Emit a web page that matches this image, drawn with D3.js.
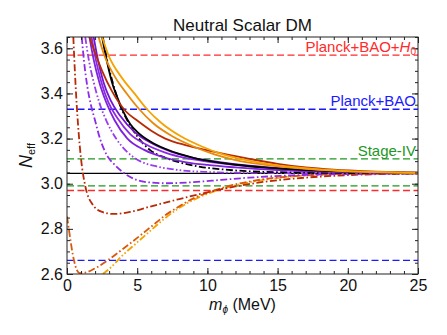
<!DOCTYPE html>
<html>
<head>
<meta charset="utf-8">
<script src="https://cdn.jsdelivr.net/npm/d3@7"></script>
<style>
  body { margin: 0; background: #fff; }
  svg { font-family: "Liberation Sans", Arial, sans-serif; }
</style>
</head>
<body>
<script>
// mass grid ticks and labels
const xMajor = [0, 5, 10, 15, 20, 25];
const xMinor = d3.range(0, 26, 1);
const yMajor = [2.6, 2.8, 3.0, 3.2, 3.4, 3.6];
const yMinor = d3.range(2.6, 3.651, 0.05);

// horizontal bounds (lower, upper)
const boundPlanckH0 = [2.97, 3.57];
const boundPlanckBAO = [2.66, 3.33];
const boundStageIV = [2.99, 3.11];
const nEffSM = 3.046;

// curves, [m_phi (MeV), N_eff]
const orangeSolidA = [[2.5,3.65],[2.95,3.57],[3.9,3.47],[4.8,3.40],[5.7,3.33],[6.7,3.27],[8.1,3.21],[9.6,3.165],[11.1,3.13],[12.5,3.108],[14,3.09],[16,3.074],[18,3.063],[20,3.056],[22,3.052],[25,3.048]];
const orangeSolidB = [[2.25,3.65],[2.65,3.57],[3.45,3.47],[4.25,3.40],[5.15,3.33],[6.1,3.27],[7.5,3.21],[9,3.165],[10.5,3.13],[12,3.105],[14,3.085],[16,3.071],[18,3.061],[20,3.055],[25,3.048]];
const redSolid = [[1.6,3.65],[2.0,3.58],[2.5,3.5],[3.2,3.41],[4.2,3.32],[5,3.28],[6,3.235],[7,3.2],[8.5,3.17],[10,3.148],[12,3.122],[13,3.11],[15,3.088],[17,3.072],[19,3.062],[22,3.054],[25,3.049]];
const blackSolid = [[2.5,3.65],[2.75,3.57],[3.2,3.45],[3.6,3.38],[4,3.32],[4.5,3.265],[5,3.23],[6,3.185],[7,3.155],[8,3.132],[9,3.115],[10,3.102],[12,3.084],[14,3.072],[17,3.06],[20,3.054],[25,3.049]];
const blackDashDot = [[2.55,3.65],[2.85,3.55],[3.25,3.45],[3.7,3.36],[4.3,3.28],[5,3.21],[5.9,3.15],[7,3.115],[8,3.095],[9.5,3.075],[11,3.064],[13,3.055],[16,3.05],[25,3.046]];
const purpleSolidA = [[1.9,3.65],[2.2,3.55],[2.6,3.45],[3.1,3.37],[3.8,3.3],[4.8,3.23],[6,3.18],[7.5,3.14],[9,3.115],[11,3.095],[13,3.08],[16,3.065],[20,3.054],[25,3.048]];
const purpleSolidB = [[1.75,3.65],[2.05,3.55],[2.45,3.45],[2.95,3.36],[3.6,3.29],[4.5,3.22],[5.6,3.175],[7,3.138],[8.5,3.113],[10,3.098],[12,3.083],[14,3.071],[17,3.06],[20,3.053],[25,3.048]];
const purpleSolidC = [[1.6,3.65],[1.9,3.55],[2.3,3.45],[2.8,3.36],[3.4,3.28],[4.3,3.2],[5.5,3.15],[7,3.115],[8.5,3.095],[10,3.083],[12,3.072],[15,3.06],[20,3.051],[25,3.047]];
const purpleDashDot = [[1.05,3.65],[1.2,3.55],[1.45,3.43],[1.7,3.35],[2.0,3.28],[2.35,3.2],[2.9,3.12],[3.3,3.09],[4,3.05],[5,3.016],[6,3.005],[7,3.002],[9,3.007],[11,3.017],[13,3.027],[16,3.037],[20,3.043],[25,3.046]];
const purpleDashDotDot = [[1.3,3.65],[1.55,3.55],[1.9,3.45],[2.3,3.36],[2.8,3.28],[3.5,3.2],[4.3,3.14],[5.2,3.1],[6.5,3.075],[8,3.06],[10,3.052],[13,3.048],[25,3.046]];
const redDashDot = [[0.45,3.65],[0.6,3.45],[0.8,3.25],[1.0,3.11],[1.3,2.99],[1.8,2.91],[2.5,2.875],[3.3,2.866],[4.5,2.875],[6,2.9],[8,2.932],[10,2.962],[12,2.988],[14,3.008],[17,3.027],[20,3.038],[25,3.045]];
const orangeRedDashDot = [[0,2.855],[0.2,2.77],[0.4,2.69],[0.6,2.635],[0.9,2.604],[1.3,2.606],[2,2.625],[3,2.665],[4,2.712],[5,2.76],[6,2.81],[7,2.86],[8,2.9],[9,2.935],[10,2.96],[11,2.98],[12,2.997],[14,3.02],[16,3.033],[19,3.042],[25,3.046]];
const orangeDashDotDot = [[2.55,2.6],[3,2.622],[4,2.685],[5,2.74],[6,2.795],[7,2.848],[8,2.893],[9,2.928],[10,2.955],[11,2.976],[12,2.993],[14,3.017],[16,3.032],[19,3.041],[25,3.046]];

const W = 447, H = 335;
const margin = {left: 67, right: 29, top: 37, bottom: 61};

const x = d3.scaleLinear().domain([0, 25]).range([margin.left, W - margin.right]);
const y = d3.scaleLinear().domain([2.6, 3.65]).range([H - margin.bottom, margin.top]);

const svg = d3.select("body").append("svg").attr("width", W).attr("height", H);

svg.append("clipPath").attr("id", "plot")
  .append("rect")
  .attr("x", x(0)).attr("y", y(3.65))
  .attr("width", x(25) - x(0)).attr("height", y(2.6) - y(3.65));

const g = svg.append("g").attr("clip-path", "url(#plot)");

// bound lines
const bounds = [
  {vals: boundPlanckH0, color: "#ff2a2a"},
  {vals: boundPlanckBAO, color: "#1a1aff"},
  {vals: boundStageIV, color: "#1f961f"}
];
bounds.forEach(b => {
  b.vals.forEach(v => {
    g.append("line")
      .attr("x1", x(0)).attr("x2", x(25))
      .attr("y1", y(v)).attr("y2", y(v))
      .attr("stroke", b.color).attr("stroke-width", 1.3)
      .attr("stroke-dasharray", "7,3.5");
  });
});

g.append("line")
  .attr("x1", x(0)).attr("x2", x(25))
  .attr("y1", y(nEffSM)).attr("y2", y(nEffSM))
  .attr("stroke", "#000").attr("stroke-width", 1.3);

const DD = "7,2.5,1.6,2.5";
const DDD = "7,2.2,1.6,2.2,1.6,2.2";
const curves = [
  {d: orangeDashDotDot, c: "#f5a300", dash: DDD},
  {d: orangeRedDashDot, c: "#d9580c", dash: DD},
  {d: redDashDot, c: "#b82a05", dash: DD},
  {d: purpleDashDot, c: "#8e2be6", dash: DD},
  {d: purpleDashDotDot, c: "#9a3cf0", dash: DDD},
  {d: blackDashDot, c: "#000000", dash: DD},
  {d: purpleSolidC, c: "#7f22dc", dash: null},
  {d: purpleSolidB, c: "#8a2be2", dash: null},
  {d: purpleSolidA, c: "#7316d0", dash: null},
  {d: blackSolid, c: "#000000", dash: null},
  {d: redSolid, c: "#b82a05", dash: null},
  {d: orangeSolidB, c: "#e8890a", dash: null},
  {d: orangeSolidA, c: "#f5a300", dash: null}
];

const line = d3.line()
  .x(d => x(d[0])).y(d => y(d[1]))
  .curve(d3.curveMonotoneX);

curves.forEach(cv => {
  g.append("path")
    .attr("d", line(cv.d))
    .attr("fill", "none")
    .attr("stroke", cv.c)
    .attr("stroke-width", 1.8)
    .attr("stroke-dasharray", cv.dash);
});

// frame
svg.append("rect")
  .attr("x", x(0)).attr("y", y(3.65))
  .attr("width", x(25) - x(0)).attr("height", y(2.6) - y(3.65))
  .attr("fill", "none").attr("stroke", "#222").attr("stroke-width", 1);

function styleAxis(sel, fs) {
  sel.select(".domain").remove();
  sel.selectAll(".tick line").attr("stroke", "#222");
  sel.selectAll("text").attr("font-size", fs).attr("fill", "#111")
    .attr("font-family", "Liberation Sans, Arial, sans-serif");
}

// major / minor ticks
svg.append("g").attr("transform", `translate(0,${y(2.6)})`)
  .call(d3.axisBottom(x).tickValues(xMajor).tickSize(-6).tickPadding(6).tickFormat(d3.format("d")))
  .call(s => styleAxis(s, 16));
svg.append("g").attr("transform", `translate(0,${y(2.6)})`)
  .call(d3.axisBottom(x).tickValues(xMinor).tickSize(-3).tickFormat(""))
  .call(s => styleAxis(s, 16));
svg.append("g").attr("transform", `translate(0,${y(3.65)})`)
  .call(d3.axisTop(x).tickValues(xMajor).tickSize(-6).tickFormat(""))
  .call(s => styleAxis(s, 16));
svg.append("g").attr("transform", `translate(0,${y(3.65)})`)
  .call(d3.axisTop(x).tickValues(xMinor).tickSize(-3).tickFormat(""))
  .call(s => styleAxis(s, 16));

svg.append("g").attr("transform", `translate(${x(0)},0)`)
  .call(d3.axisLeft(y).tickValues(yMajor).tickSize(-6).tickPadding(4).tickFormat(d3.format(".1f")))
  .call(s => styleAxis(s, 16));
svg.append("g").attr("transform", `translate(${x(0)},0)`)
  .call(d3.axisLeft(y).tickValues(yMinor).tickSize(-3).tickFormat(""))
  .call(s => styleAxis(s, 16));
svg.append("g").attr("transform", `translate(${x(25)},0)`)
  .call(d3.axisRight(y).tickValues(yMajor).tickSize(-6).tickFormat(""))
  .call(s => styleAxis(s, 16));
svg.append("g").attr("transform", `translate(${x(25)},0)`)
  .call(d3.axisRight(y).tickValues(yMinor).tickSize(-3).tickFormat(""))
  .call(s => styleAxis(s, 16));

// title
svg.append("text")
  .attr("x", (x(0) + x(25)) / 2).attr("y", 31)
  .attr("text-anchor", "middle").attr("font-size", 17).attr("fill", "#111")
  .text("Neutral Scalar DM");

// bound labels
const lab1 = svg.append("text")
  .attr("x", x(25) - 2).attr("y", y(3.57) - 3)
  .attr("text-anchor", "end").attr("font-size", 15).attr("fill", "#ff2a2a");
lab1.append("tspan").text("Planck+BAO+");
lab1.append("tspan").attr("font-style", "italic").text("H");
lab1.append("tspan").attr("font-size", 10).attr("dy", 3).text("0");

svg.append("text")
  .attr("x", x(25) - 2).attr("y", y(3.33) - 3)
  .attr("text-anchor", "end").attr("font-size", 15).attr("fill", "#1a1aff")
  .text("Planck+BAO");

svg.append("text")
  .attr("x", x(25) - 2).attr("y", y(3.11) - 3)
  .attr("text-anchor", "end").attr("font-size", 15).attr("fill", "#1f961f")
  .text("Stage-IV");

// axis titles
const xt = svg.append("text")
  .attr("x", (x(0) + x(25)) / 2).attr("y", 310)
  .attr("text-anchor", "middle").attr("font-size", 16).attr("fill", "#111");
xt.append("tspan").attr("font-style", "italic").text("m");
xt.append("tspan").attr("font-size", 10).attr("dy", 3).attr("font-style", "italic").text("ϕ");
xt.append("tspan").attr("dy", -3).text(" (MeV)");

const yt = svg.append("text")
  .attr("transform", `translate(32,${(y(2.6) + y(3.65)) / 2}) rotate(-90)`)
  .attr("text-anchor", "middle").attr("font-size", 18).attr("fill", "#111");
yt.append("tspan").attr("font-style", "italic").text("N");
yt.append("tspan").attr("font-size", 11).attr("dy", 3).text("eff");
</script>
</body>
</html>
